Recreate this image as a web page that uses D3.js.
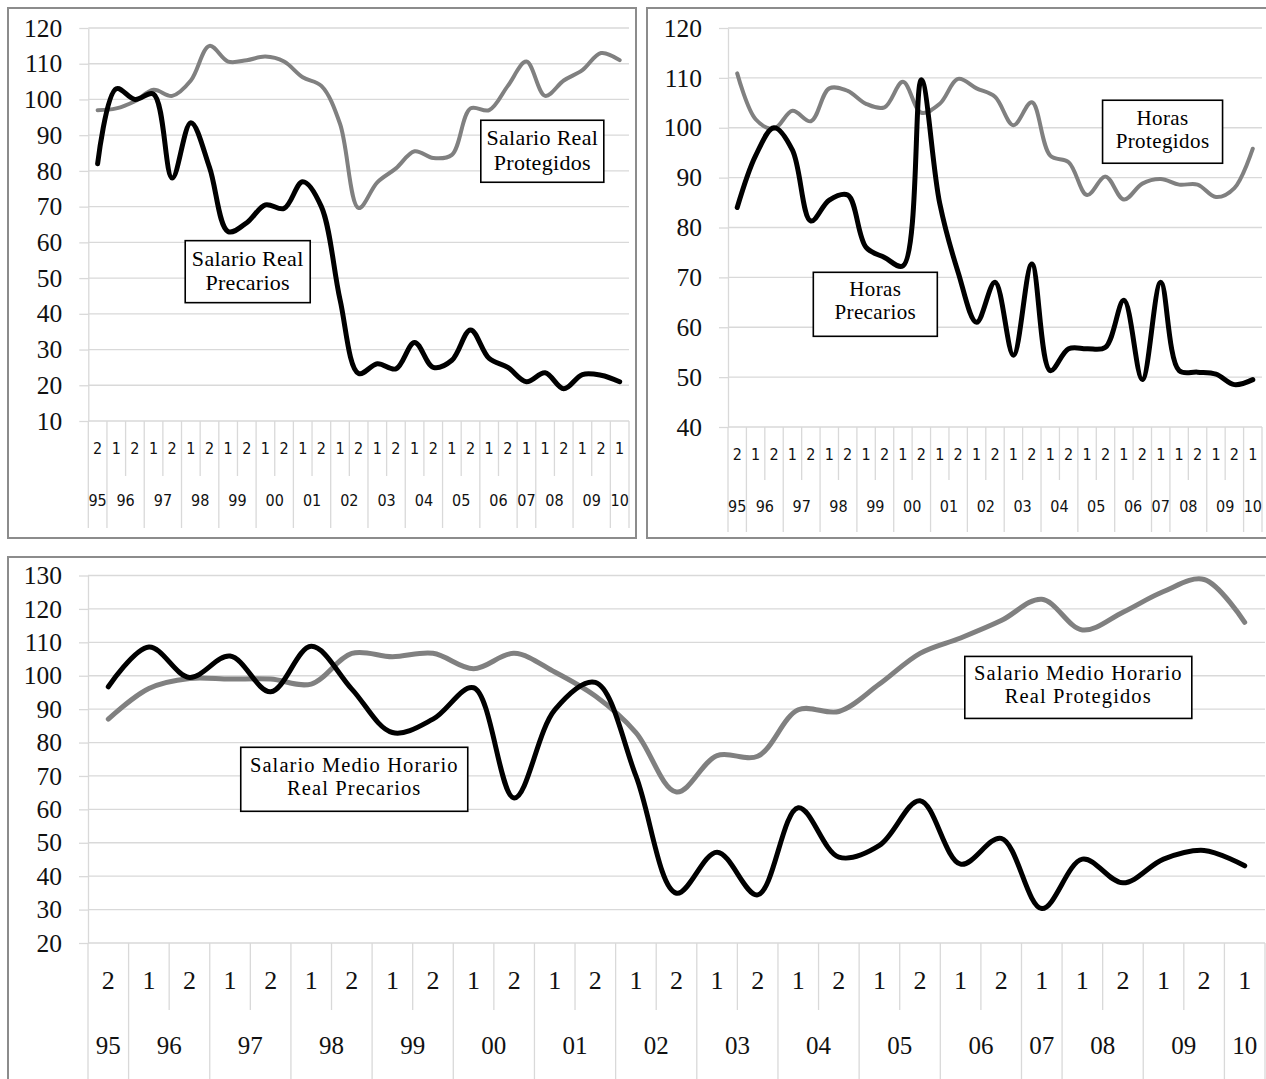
<!DOCTYPE html>
<html>
<head>
<meta charset="utf-8">
<script src="https://cdn.jsdelivr.net/npm/d3@7"></script>
<style>
  body { margin: 0; background: #fff; }
  svg { display: block; }
</style>
</head>
<body>
<svg width="1266" height="1079"></svg>
<script>
// semester of each observation and the year it belongs to
var semestres = ['2','1','2','1','2','1','2','1','2','1','2','1','2','1','2','1','2','1','2','1','2','1','2','1','1','2','1','2','1']
var anios     = ['95','96','96','97','97','98','98','99','99','00','00','01','01','02','02','03','03','04','04','05','05','06','06','07','08','08','09','09','10']

// Salario real
var salarioPrecarios  = [82, 103, 100, 101.5, 78, 93.5, 81, 63, 65.5, 70.5, 69.5, 77, 70, 44, 23.3, 26, 24.6, 32, 25, 27, 35.5, 27.5, 25, 21, 23.5, 19, 23, 22.8, 21]
var salarioProtegidos = [97, 97.5, 99.5, 102.7, 101, 105.3, 115, 110.6, 111, 112, 110.6, 106.2, 103.8, 93.2, 69.6, 76.8, 80.7, 85.5, 83.6, 84.5, 97.5, 97, 103.8, 110.6, 101, 105.3, 108.2, 113, 111]

// Horas
var horasPrecarios  = [84, 94.4, 100, 95.5, 81.3, 85.5, 86.5, 76, 74, 72.3, 109.6, 84.8, 71, 61, 69, 54.4, 72.7, 51.3, 55.7, 55.7, 56, 65.4, 49.5, 69, 51.3, 51, 50.6, 48.5, 49.5]
var horasProtegidos = [110.9, 101.7, 99.8, 103.4, 101.3, 107.9, 107.4, 104.8, 104.1, 109.2, 103, 104.8, 109.8, 107.9, 106.2, 100.5, 105.1, 94.4, 93.1, 86.5, 90.2, 85.6, 88.8, 89.7, 88.6, 88.6, 86.1, 87.9, 95.8]

// Salario medio horario real
var horarioPrecarios  = [96.7, 108.6, 99.5, 105.9, 95.2, 108.8, 96, 83, 87, 96.4, 63.4, 89.8, 98, 70, 34.9, 47.2, 34.4, 60.5, 45.7, 49.2, 62.6, 43.6, 51.3, 30.3, 45.1, 38, 45.1, 47.7, 43.1]
var horarioProtegidos = [87, 96.2, 99.2, 99, 99, 97.5, 106.7, 105.7, 106.7, 102.1, 106.7, 101.1, 93.9, 83, 65.2, 76.1, 75.9, 89.8, 89.3, 97.5, 106.7, 111.3, 116.5, 122.9, 113.7, 119, 125.2, 128.8, 116]

var svg = d3.select('svg')
var serif = "'Liberation Serif', 'Times New Roman', serif"
var smallSans = "'DejaVu Sans Condensed', 'DejaVu Sans', sans-serif"

function panel(cfg) {
    var g = svg.append('g')

    g.append('rect')
        .attr('x', cfg.frame[0]).attr('y', cfg.frame[1])
        .attr('width', cfg.frame[2]).attr('height', cfg.frame[3])
        .attr('fill', 'none').attr('stroke', '#8c8c8c').attr('stroke-width', 2)

    var x = d3.scaleBand().domain(d3.range(semestres.length)).range([cfg.left, cfg.right])
    var bw = x.bandwidth()
    var y = d3.scaleLinear().domain(cfg.domain).range([cfg.bottom, cfg.top])
    var ticks = d3.range(cfg.domain[0], cfg.domain[1] + 1, 10)

    // horizontal gridlines
    g.selectAll('line.grid').data(ticks).enter().append('line')
        .attr('class', 'grid')
        .attr('x1', cfg.left).attr('x2', cfg.right)
        .attr('y1', function(d) { return y(d) }).attr('y2', function(d) { return y(d) })
        .attr('stroke', '#d9d9d9').attr('stroke-width', 1.3)

    // value axis
    var ax = g.append('g')
        .attr('transform', 'translate(' + cfg.left + ',0)')
        .call(d3.axisLeft(y).tickValues(ticks).tickSize(9).tickSizeOuter(0).tickPadding(17))
    ax.attr('font-family', null).attr('font-size', null)
    ax.selectAll('line').attr('stroke', '#d9d9d9').attr('stroke-width', 1.3)
    ax.select('.domain').attr('stroke', '#d9d9d9').attr('stroke-width', 1.3)
    ax.selectAll('text')
        .style('font-family', serif).style('font-size', cfg.tickSize + 'px').attr('fill', '#111')

    // category separators: long between years, short inside a year
    var bounds = d3.range(semestres.length + 1)
    g.selectAll('line.sep').data(bounds).enter().append('line')
        .attr('class', 'sep')
        .attr('x1', function(i) { return cfg.left + i * bw })
        .attr('x2', function(i) { return cfg.left + i * bw })
        .attr('y1', cfg.bottom)
        .attr('y2', function(i) {
            var long = (i == 0 || i == semestres.length || anios[i] != anios[i - 1])
            return long ? cfg.longEnd : cfg.shortEnd
        })
        .attr('stroke', '#d9d9d9').attr('stroke-width', 1.3)

    g.selectAll('text.sem').data(semestres).enter().append('text')
        .attr('class', 'sem')
        .attr('x', function(d, i) { return x(i) + bw / 2 })
        .attr('y', cfg.row1)
        .attr('text-anchor', 'middle').attr('dominant-baseline', 'central')
        .style('font-family', cfg.catFont).style('font-size', cfg.catSize + 'px')
        .style('font-stretch', 'condensed').attr('fill', '#111')
        .text(function(d) { return d })

    // group consecutive years
    var groups = []
    anios.forEach(function(a, i) {
        var last = groups[groups.length - 1]
        if (last && last.label == a) last.end = i
        else groups.push({ label: a, start: i, end: i })
    })
    g.selectAll('text.year').data(groups).enter().append('text')
        .attr('class', 'year')
        .attr('x', function(d) { return (x(d.start) + x(d.end) + bw) / 2 })
        .attr('y', cfg.row2)
        .attr('text-anchor', 'middle').attr('dominant-baseline', 'central')
        .style('font-family', cfg.catFont).style('font-size', cfg.yearSize + 'px')
        .style('font-stretch', 'condensed').attr('fill', '#111')
        .text(function(d) { return d.label })

    var line = d3.line()
        .x(function(d, i) { return x(i) + bw / 2 })
        .y(function(d) { return y(d) })
        .curve(d3.curveCatmullRom.alpha(0.5))

    g.append('path').datum(cfg.protegidos)
        .attr('d', line).attr('fill', 'none')
        .attr('stroke', '#808080').attr('stroke-width', cfg.grayWidth)
        .attr('stroke-linejoin', 'round').attr('stroke-linecap', 'round')
    g.append('path').datum(cfg.precarios)
        .attr('d', line).attr('fill', 'none')
        .attr('stroke', '#000').attr('stroke-width', 5)
        .attr('stroke-linejoin', 'round').attr('stroke-linecap', 'round')

    // labelled boxes, placed in data coordinates (category index, value)
    cfg.boxes.forEach(function(b) {
        var cx = cfg.left + b.at[0] * bw + bw / 2
        var cy = y(b.at[1])
        g.append('rect')
            .attr('x', cx - b.w / 2).attr('y', cy - b.h / 2)
            .attr('width', b.w).attr('height', b.h)
            .attr('fill', '#fff').attr('stroke', '#000').attr('stroke-width', 1.6)
        var n = b.lines.length
        var txt = g.append('text')
            .attr('text-anchor', 'middle')
            .style('font-family', serif).style('font-size', b.size + 'px')
            .style('letter-spacing', (b.ls || 0) + 'px')
            .attr('fill', '#000')
        b.lines.forEach(function(t, k) {
            txt.append('tspan')
                .attr('x', cx)
                .attr('y', cy + b.off + (k - (n - 1) / 2) * b.lh + b.size * 0.33)
                .text(t)
        })
    })
}

panel({
    frame: [8, 8, 628, 530],
    left: 88.3, right: 629, top: 28, bottom: 421,
    domain: [10, 120], tickSize: 25.5,
    catFont: smallSans, catSize: 16, yearSize: 16,
    row1: 448, row2: 500, shortEnd: 476, longEnd: 528,
    precarios: salarioPrecarios, protegidos: salarioProtegidos, grayWidth: 4,
    boxes: [
        { at: [8.05, 51.8], w: 125, h: 62, lines: ['Salario Real', 'Precarios'], size: 22, lh: 24.5, off: -1, ls: 0.3 },
        { at: [23.85, 85.5], w: 123, h: 62, lines: ['Salario Real', 'Protegidos'], size: 22, lh: 24.5, off: -1, ls: 0.3 }
    ]
})

panel({
    frame: [647, 8, 640, 530],
    left: 728, right: 1262, top: 28, bottom: 427,
    domain: [40, 120], tickSize: 25.5,
    catFont: smallSans, catSize: 16, yearSize: 16,
    row1: 454, row2: 506, shortEnd: 480, longEnd: 532,
    precarios: horasPrecarios, protegidos: horasProtegidos, grayWidth: 4,
    boxes: [
        { at: [7.5, 64.6], w: 124, h: 64, lines: ['Horas', 'Precarios'], size: 21, lh: 23, off: -4, ls: 0.4 },
        { at: [23.1, 99.2], w: 120, h: 63, lines: ['Horas', 'Protegidos'], size: 21, lh: 23, off: -2, ls: 0.4 }
    ]
})

panel({
    frame: [8, 557, 1280, 540],
    left: 88, right: 1265, top: 575.5, bottom: 943,
    domain: [20, 130], tickSize: 25.5,
    catFont: serif, catSize: 26, yearSize: 25,
    row1: 980, row2: 1045, shortEnd: 1010, longEnd: 1079,
    precarios: horarioPrecarios, protegidos: horarioProtegidos, grayWidth: 5,
    boxes: [
        { at: [6.06, 69], w: 227, h: 64, lines: ['Salario Medio Horario', 'Real Precarios'], size: 20.5, lh: 23, off: -3, ls: 1.1 },
        { at: [23.9, 96.5], w: 227, h: 62, lines: ['Salario Medio Horario', 'Real Protegidos'], size: 20.5, lh: 23, off: -3, ls: 1.1 }
    ]
})
</script>
</body>
</html>
